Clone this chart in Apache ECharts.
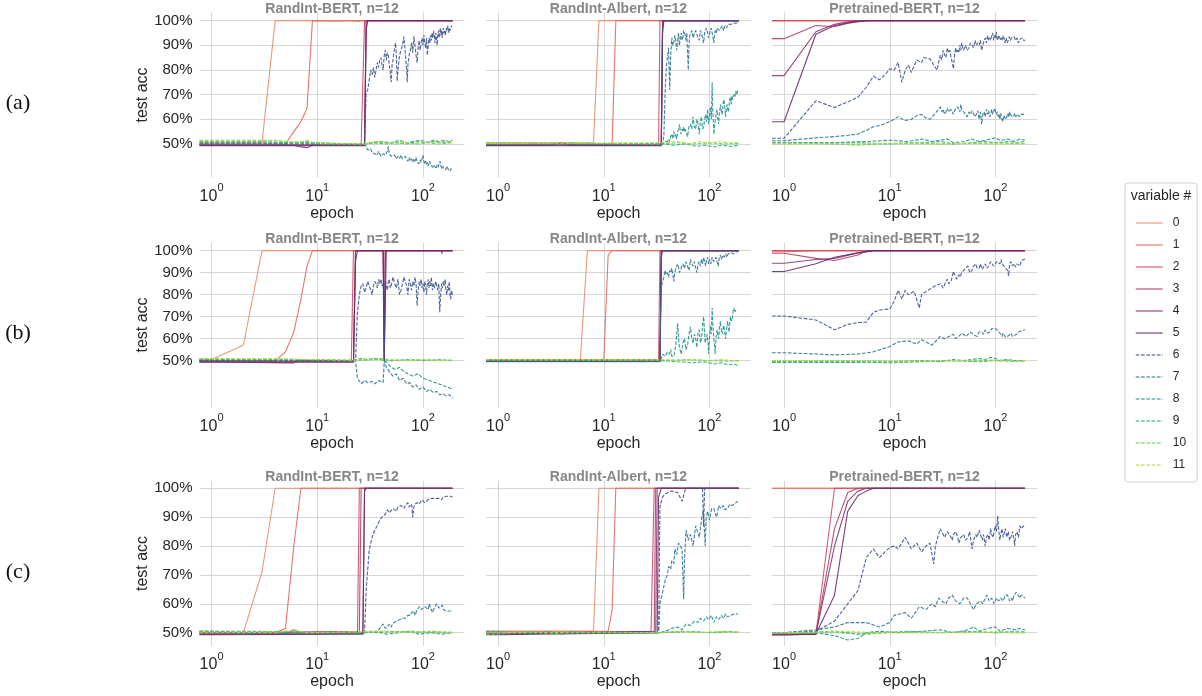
<!DOCTYPE html>
<html><head><meta charset="utf-8">
<script src="https://cdn.jsdelivr.net/npm/echarts@6/dist/echarts.min.js"></script>
<style>html,body{margin:0;padding:0;background:#fff}#c{width:1202px;height:696px}</style>
</head><body><div id="c"></div>
<script>
// ---------- categories / labels ----------
const ROW_LABELS = ['(a)', '(b)', '(c)'];
const MODEL_TITLES = ['RandInt-BERT, n=12', 'RandInt-Albert, n=12', 'Pretrained-BERT, n=12'];
const VARIABLES = ['0','1','2','3','4','5','6','7','8','9','10','11'];
const Y_TICKS = [0.5, 0.6, 0.7, 0.8, 0.9, 1.0];
const X_TICKS = [1, 10, 100];

// ---------- data: [epoch, test acc] per variable, one array per panel ----------
const A1 = [
 [[1,0.505],[3,0.505],[4,1.0],[20,1.0],[25,0.997],[27,1.0],[190,1.0]],
 [[1,0.5],[5,0.5],[6,0.55],[7,0.59],[8,0.645],[9,1.0],[15,0.998],[22,1.0],[190,1.0]],
 [[1,0.497],[26,0.497],[27,0.5],[28,1.0],[190,1.0]],
 [[1,0.495],[28,0.495],[29,1.0],[190,1.0]],
 [[1,0.495],[6,0.495],[7,0.488],[8,0.485],[9,0.495],[28,0.497],[29,1.0],[190,1.0]],
 [[1,0.493],[28,0.493],[29,0.96],[30,1.0],[190,1.0]],
 [[1,0.5],[28,0.5],[29,0.706],[30,0.72],[31,0.76],[32,0.8],[33,0.78],[34,0.81],[35,0.77],[36,0.8],[37,0.83],[38,0.81],[39,0.84],[40,0.85],[41,0.82],[42,0.8],[43,0.86],[44,0.88],[45,0.84],[46,0.87],[47,0.86],[48,0.82],[49,0.79],[50,0.75],[51,0.82],[52,0.84],[53,0.87],[54,0.89],[55,0.91],[56,0.86],[57,0.755],[58,0.8],[59,0.83],[60,0.86],[62,0.88],[64,0.9],[66,0.935],[68,0.87],[70,0.8],[71,0.75],[72,0.82],[74,0.86],[76,0.88],[78,0.91],[80,0.87],[82,0.937],[84,0.9],[86,0.86],[88,0.83],[90,0.89],[92,0.92],[94,0.88],[96,0.91],[98,0.93],[100,0.9],[102,0.94],[104,0.91],[106,0.89],[108,0.93],[110,0.86],[112,0.9],[114,0.93],[116,0.91],[118,0.94],[120,0.92],[122,0.95],[124,0.93],[126,0.96],[128,0.94],[130,0.91],[132,0.95],[134,0.93],[136,0.9],[138,0.94],[140,0.96],[142,0.93],[144,0.95],[146,0.97],[148,0.94],[150,0.96],[152,0.93],[154,0.95],[156,0.97],[158,0.95],[160,0.96],[163,0.94],[166,0.97],[169,0.96],[172,0.98],[175,0.95],[178,0.97],[181,0.96],[184,0.975],[187,0.97],[190,0.98]],
 [[1,0.5],[28,0.5],[29,0.49],[30,0.475],[31,0.47],[32,0.48],[33,0.465],[34,0.47],[35,0.46],[36,0.465],[37,0.455],[38,0.47],[39,0.46],[40,0.45],[42,0.46],[44,0.455],[46,0.47],[47,0.49],[48,0.46],[50,0.45],[52,0.445],[54,0.455],[56,0.44],[58,0.45],[60,0.44],[62,0.455],[64,0.44],[66,0.435],[68,0.45],[70,0.44],[72,0.43],[74,0.445],[76,0.43],[78,0.44],[80,0.425],[82,0.44],[84,0.43],[86,0.445],[88,0.425],[90,0.43],[92,0.42],[94,0.435],[96,0.425],[98,0.44],[100,0.455],[102,0.43],[104,0.42],[106,0.43],[108,0.415],[110,0.425],[112,0.41],[114,0.42],[116,0.43],[118,0.415],[120,0.41],[122,0.42],[124,0.405],[126,0.415],[128,0.42],[130,0.41],[133,0.4],[136,0.415],[139,0.405],[142,0.42],[145,0.43],[148,0.41],[151,0.4],[154,0.41],[157,0.4],[160,0.405],[164,0.395],[168,0.41],[172,0.4],[176,0.395],[180,0.39],[184,0.4],[190,0.39]],
 [[1,0.505],[10,0.505],[20,0.5],[28,0.5],[32,0.505],[40,0.51],[50,0.505],[60,0.515],[70,0.505],[80,0.51],[95,0.515],[110,0.505],[125,0.515],[140,0.51],[160,0.515],[175,0.51],[190,0.515]],
 [[1,0.51],[3,0.51],[5,0.505],[8,0.508],[10,0.5],[28,0.5],[35,0.505],[45,0.5],[55,0.508],[70,0.5],[85,0.51],[100,0.505],[120,0.51],[150,0.505],[190,0.51]],
 [[1,0.515],[4,0.515],[6,0.505],[8,0.51],[12,0.5],[28,0.5],[40,0.505],[55,0.5],[70,0.505],[90,0.5],[110,0.505],[140,0.5],[190,0.505]],
 [[1,0.512],[4,0.512],[7,0.508],[8,0.515],[9,0.505],[28,0.5],[35,0.51],[50,0.505],[65,0.51],[80,0.5],[100,0.508],[130,0.505],[160,0.51],[190,0.505]]
];
const A2 = [
 [[1,0.505],[8,0.505],[9,1.0],[190,1.0]],
 [[1,0.5],[12,0.5],[13,1.0],[190,1.0]],
 [[1,0.495],[33,0.495],[34,1.0],[190,1.0]],
 [[1,0.497],[35,0.497],[36,1.0],[190,1.0]],
 [[1,0.495],[3,0.495],[4,0.505],[5,0.495],[35,0.495],[36,1.0],[190,1.0]],
 [[1,0.493],[35,0.493],[36,0.95],[37,1.0],[190,1.0]],
 [[1,0.5],[35,0.5],[36,0.97],[37,1.0],[190,1.0]],
 [[1,0.5],[36,0.5],[37,0.53],[38,0.7],[39,0.81],[40,0.85],[41,0.89],[42,0.72],[43,0.86],[44,0.93],[45,0.9],[46,0.91],[47,0.94],[48,0.92],[49,0.88],[50,0.92],[51,0.95],[52,0.9],[53,0.93],[54,0.95],[55,0.92],[56,0.93],[57,0.96],[58,0.96],[59,0.94],[60,0.92],[61,0.95],[62,0.95],[63,0.8],[64,0.9],[65,0.94],[66,0.94],[68,0.96],[70,0.93],[72,0.95],[74,0.96],[76,0.96],[78,0.93],[80,0.92],[82,0.96],[84,0.95],[86,0.93],[88,0.91],[90,0.95],[92,0.96],[94,0.97],[96,0.95],[98,0.93],[100,0.93],[102,0.96],[104,0.97],[106,0.95],[108,0.93],[110,0.91],[112,0.95],[114,0.96],[116,0.95],[118,0.97],[120,0.97],[124,0.96],[128,0.97],[132,0.98],[136,0.96],[140,0.98],[145,0.97],[150,0.985],[155,0.98],[160,0.985],[170,0.99],[180,0.99],[190,0.995]],
 [[1,0.5],[36,0.5],[37,0.5],[38,0.51],[40,0.51],[41,0.52],[42,0.51],[43,0.53],[44,0.54],[45,0.52],[46,0.55],[47,0.53],[48,0.54],[49,0.52],[50,0.55],[51,0.56],[52,0.58],[53,0.55],[54,0.54],[55,0.56],[56,0.55],[57,0.57],[58,0.55],[59,0.56],[60,0.56],[62,0.53],[64,0.57],[66,0.58],[68,0.56],[70,0.61],[72,0.57],[74,0.56],[76,0.6],[78,0.58],[80,0.54],[82,0.59],[84,0.61],[86,0.56],[88,0.57],[90,0.6],[92,0.62],[94,0.59],[96,0.64],[98,0.58],[100,0.61],[102,0.65],[104,0.6],[106,0.75],[107,0.65],[108,0.62],[110,0.54],[112,0.58],[114,0.6],[116,0.63],[118,0.64],[120,0.6],[122,0.58],[124,0.62],[127,0.66],[130,0.63],[132,0.62],[135,0.67],[137,0.68],[140,0.64],[142,0.61],[145,0.65],[147,0.66],[150,0.63],[152,0.64],[155,0.68],[158,0.69],[160,0.66],[163,0.695],[166,0.68],[170,0.7],[174,0.69],[177,0.715],[181,0.7],[185,0.72]],
 [[1,0.5],[4,0.5],[5,0.505],[6,0.5],[36,0.5],[45,0.495],[60,0.5],[75,0.49],[90,0.495],[110,0.488],[130,0.495],[160,0.49],[190,0.495]],
 [[1,0.505],[36,0.5],[50,0.505],[70,0.5],[100,0.505],[140,0.5],[190,0.502]],
 [[1,0.502],[36,0.505],[50,0.51],[65,0.5],[80,0.51],[100,0.502],[120,0.51],[150,0.505],[190,0.505]]
];
const A3 = [
 [[1,1.0],[190,1.0]],
 [[1,1.0],[190,1.0]],
 [[1,1.0],[190,1.0]],
 [[1,0.927],[2,0.98],[3,0.975],[4,0.99],[5,1.0],[190,1.0]],
 [[1,0.777],[2,0.955],[3,0.985],[4,0.995],[6,1.0],[190,1.0]],
 [[1,0.59],[2,0.945],[3,0.98],[4,0.99],[6,1.0],[190,1.0]],
 [[1,0.523],[2,0.675],[3,0.648],[4,0.67],[5,0.69],[6,0.73],[7,0.775],[8,0.76],[9,0.78],[10,0.805],[11,0.8],[12,0.83],[13,0.75],[14,0.8],[15,0.82],[16,0.79],[18,0.84],[20,0.83],[21,0.85],[24,0.845],[26,0.82],[28,0.8],[30,0.86],[31,0.84],[32,0.88],[33,0.86],[34,0.85],[35,0.89],[36,0.87],[37,0.88],[38,0.85],[39,0.83],[40,0.805],[41,0.86],[42,0.89],[43,0.87],[44,0.88],[45,0.87],[46,0.9],[47,0.88],[48,0.91],[49,0.89],[50,0.88],[52,0.9],[54,0.88],[56,0.89],[58,0.91],[60,0.9],[62,0.89],[64,0.92],[66,0.9],[68,0.91],[70,0.9],[72,0.92],[74,0.88],[76,0.9],[78,0.92],[80,0.93],[82,0.91],[84,0.94],[86,0.92],[88,0.93],[90,0.92],[92,0.94],[94,0.95],[96,0.92],[98,0.94],[100,0.93],[102,0.955],[104,0.92],[106,0.915],[108,0.94],[110,0.94],[112,0.92],[114,0.93],[116,0.92],[118,0.94],[120,0.93],[123,0.91],[126,0.93],[129,0.91],[132,0.92],[135,0.935],[138,0.92],[142,0.93],[146,0.925],[150,0.935],[155,0.92],[160,0.93],[165,0.91],[170,0.925],[175,0.92],[180,0.93],[185,0.92],[190,0.92]],
 [[1,0.513],[2,0.525],[3,0.53],[4,0.535],[5,0.54],[6,0.555],[7,0.57],[8,0.575],[10,0.59],[12,0.61],[14,0.595],[16,0.6],[18,0.615],[20,0.62],[22,0.605],[24,0.6],[27,0.625],[30,0.65],[31,0.63],[32,0.64],[33,0.62],[34,0.63],[35,0.645],[36,0.63],[38,0.64],[40,0.62],[42,0.645],[44,0.65],[46,0.63],[47,0.66],[48,0.64],[50,0.64],[52,0.62],[54,0.61],[56,0.63],[58,0.62],[60,0.635],[62,0.64],[64,0.61],[66,0.62],[68,0.635],[70,0.6],[72,0.63],[74,0.58],[76,0.62],[78,0.63],[80,0.61],[82,0.64],[84,0.62],[86,0.635],[88,0.61],[90,0.62],[92,0.64],[94,0.62],[96,0.63],[98,0.645],[100,0.64],[102,0.62],[104,0.63],[106,0.61],[108,0.62],[110,0.6],[112,0.625],[114,0.61],[117,0.59],[120,0.615],[122,0.62],[125,0.6],[128,0.61],[131,0.625],[134,0.61],[137,0.63],[140,0.615],[144,0.62],[148,0.61],[152,0.625],[156,0.61],[160,0.62],[165,0.625],[170,0.61],[175,0.62],[180,0.615],[185,0.62],[190,0.615]],
 [[1,0.505],[3,0.505],[6,0.51],[10,0.515],[15,0.51],[20,0.52],[25,0.51],[30,0.515],[35,0.52],[40,0.505],[50,0.51],[60,0.52],[70,0.51],[80,0.515],[90,0.52],[100,0.525],[110,0.515],[130,0.52],[150,0.51],[170,0.52],[190,0.515]],
 [[1,0.505],[5,0.505],[10,0.5],[20,0.505],[30,0.51],[40,0.5],[60,0.505],[80,0.51],[100,0.505],[130,0.51],[160,0.505],[190,0.51]],
 [[1,0.505],[3,0.5],[5,0.495],[8,0.5],[15,0.505],[30,0.5],[60,0.502],[100,0.505],[190,0.5]],
 [[1,0.5],[5,0.5],[10,0.502],[30,0.5],[60,0.503],[100,0.5],[190,0.502]]
];
const B1 = [
 [[1,0.505],[2,0.57],[3,1.0],[190,1.0]],
 [[1,0.5],[4,0.5],[5,0.54],[6,0.63],[7,0.78],[8,0.93],[9,1.0],[190,1.0]],
 [[1,0.497],[20,0.497],[21,0.505],[22,1.0],[190,1.0]],
 [[1,0.495],[22,0.495],[23,1.0],[42,1.0],[43,0.5],[44,1.0],[190,1.0]],
 [[1,0.495],[5,0.49],[6,0.49],[7,0.505],[8,0.5],[22,0.5],[23,1.0],[42,1.0],[43,0.505],[45,1.0],[150,1.0],[151,0.985],[152,1.0],[190,1.0]],
 [[1,0.493],[22,0.493],[23,0.95],[24,1.0],[42,1.0],[43,0.5],[44,1.0],[190,1.0]],
 [[1,0.5],[23,0.5],[24,0.72],[25,0.8],[26,0.84],[27,0.85],[28,0.81],[29,0.83],[30,0.86],[31,0.86],[32,0.82],[33,0.8],[34,0.84],[35,0.86],[36,0.85],[37,0.83],[38,0.87],[39,0.85],[40,0.87],[41,0.84],[42,0.85],[43,0.5],[44,0.86],[45,0.84],[46,0.82],[47,0.86],[48,0.87],[49,0.83],[50,0.84],[52,0.88],[54,0.85],[56,0.83],[58,0.87],[60,0.8],[62,0.82],[64,0.85],[66,0.88],[68,0.86],[70,0.84],[72,0.8],[74,0.87],[76,0.85],[78,0.82],[80,0.86],[82,0.84],[84,0.88],[86,0.85],[88,0.75],[90,0.82],[92,0.86],[94,0.84],[96,0.87],[98,0.83],[100,0.85],[102,0.81],[104,0.86],[106,0.84],[108,0.8],[110,0.85],[112,0.87],[114,0.83],[116,0.86],[118,0.84],[120,0.88],[123,0.82],[126,0.85],[129,0.83],[132,0.86],[135,0.84],[138,0.82],[141,0.85],[144,0.72],[147,0.8],[150,0.85],[153,0.83],[156,0.86],[159,0.84],[162,0.87],[165,0.82],[168,0.8],[171,0.84],[174,0.82],[177,0.86],[180,0.8],[183,0.78],[186,0.82],[190,0.8]],
 [[1,0.5],[23,0.5],[24,0.42],[26,0.395],[28,0.41],[30,0.4],[33,0.405],[35,0.395],[38,0.41],[40,0.405],[42,0.4],[43,0.5],[45,0.47],[48,0.45],[52,0.43],[56,0.44],[60,0.41],[65,0.42],[70,0.395],[75,0.4],[80,0.38],[86,0.39],[92,0.37],[100,0.38],[108,0.36],[116,0.37],[125,0.355],[135,0.36],[145,0.345],[155,0.35],[165,0.34],[178,0.345],[190,0.33]],
 [[1,0.505],[20,0.5],[23,0.505],[26,0.51],[30,0.505],[35,0.51],[40,0.505],[43,0.5],[46,0.49],[50,0.47],[55,0.46],[60,0.47],[66,0.45],[72,0.44],[80,0.43],[90,0.44],[100,0.42],[115,0.41],[130,0.4],[150,0.39],[170,0.38],[190,0.37]],
 [[1,0.505],[10,0.505],[23,0.5],[30,0.505],[40,0.51],[50,0.5],[70,0.505],[100,0.5],[140,0.505],[190,0.5]],
 [[1,0.51],[3,0.505],[10,0.505],[23,0.5],[35,0.505],[60,0.5],[90,0.505],[130,0.5],[190,0.502]],
 [[1,0.508],[4,0.51],[8,0.505],[23,0.502],[40,0.508],[70,0.5],[100,0.505],[150,0.5],[190,0.503]]
];
const B2 = [
 [[1,0.505],[6,0.505],[7,1.0],[190,1.0]],
 [[1,0.5],[10,0.5],[11,0.98],[12,1.0],[190,1.0]],
 [[1,0.505],[33,0.505],[34,1.0],[190,1.0]],
 [[1,0.498],[34,0.498],[35,1.0],[190,1.0]],
 [[1,0.498],[34,0.498],[35,1.0],[190,1.0]],
 [[1,0.496],[34,0.496],[35,0.97],[36,1.0],[190,1.0]],
 [[1,0.495],[34,0.495],[35,1.0],[190,1.0]],
 [[1,0.5],[34,0.5],[35,0.836],[36,0.86],[37,0.88],[38,0.91],[39,0.89],[40,0.9],[41,0.88],[42,0.91],[43,0.9],[44,0.92],[45,0.89],[46,0.86],[47,0.9],[48,0.92],[49,0.93],[50,0.94],[52,0.9],[54,0.92],[56,0.94],[58,0.92],[60,0.95],[62,0.93],[64,0.91],[66,0.96],[68,0.94],[70,0.93],[72,0.95],[74,0.92],[76,0.9],[78,0.94],[80,0.95],[82,0.93],[84,0.96],[86,0.94],[88,0.97],[90,0.95],[92,0.93],[94,0.96],[96,0.97],[98,0.94],[100,0.96],[103,0.94],[106,0.97],[109,0.95],[112,0.96],[115,0.97],[118,0.95],[121,0.93],[124,0.97],[127,0.98],[130,0.96],[134,0.98],[138,0.97],[142,0.985],[146,0.97],[150,0.985],[155,0.98],[160,0.99],[170,0.985],[180,0.995],[190,1.0]],
 [[1,0.5],[34,0.5],[35,0.51],[36,0.53],[38,0.52],[40,0.54],[42,0.53],[43,0.55],[44,0.52],[46,0.52],[48,0.57],[50,0.67],[51,0.6],[52,0.56],[54,0.53],[55,0.55],[56,0.58],[58,0.6],[60,0.55],[62,0.57],[64,0.62],[66,0.655],[68,0.6],[70,0.58],[72,0.62],[74,0.6],[76,0.56],[78,0.63],[80,0.64],[82,0.58],[84,0.6],[86,0.66],[88,0.7],[90,0.62],[91,0.58],[93,0.6],[95,0.62],[97,0.58],[98,0.53],[100,0.6],[102,0.66],[104,0.62],[106,0.74],[108,0.65],[110,0.6],[112,0.56],[113,0.53],[115,0.6],[118,0.64],[120,0.62],[122,0.6],[125,0.66],[127,0.68],[130,0.63],[132,0.62],[135,0.65],[137,0.66],[140,0.62],[142,0.6],[145,0.64],[148,0.68],[150,0.66],[153,0.63],[155,0.66],[158,0.7],[161,0.68],[164,0.69],[167,0.72],[170,0.74],[174,0.72],[178,0.73]],
 [[1,0.5],[10,0.5],[34,0.5],[50,0.495],[70,0.49],[90,0.495],[110,0.485],[130,0.49],[150,0.48],[170,0.485],[190,0.475]],
 [[1,0.503],[34,0.5],[60,0.505],[100,0.5],[150,0.498],[190,0.5]],
 [[1,0.505],[34,0.505],[50,0.5],[70,0.505],[100,0.5],[130,0.505],[190,0.498]]
];
const B3 = [
 [[1,1.0],[190,1.0]],
 [[1,0.995],[2,1.0],[190,1.0]],
 [[1,1.0],[190,1.0]],
 [[1,0.988],[2,0.965],[3,0.955],[5,0.98],[6,1.0],[190,1.0]],
 [[1,0.943],[2,0.96],[3,0.965],[5,0.99],[7,1.0],[190,1.0]],
 [[1,0.905],[2,0.94],[3,0.97],[5,0.99],[7,1.0],[190,1.0]],
 [[1,0.703],[2,0.685],[3,0.64],[4,0.665],[5,0.673],[6,0.675],[7,0.72],[8,0.73],[10,0.735],[11,0.77],[12,0.82],[13,0.78],[14,0.82],[15,0.8],[17,0.815],[19,0.74],[20,0.8],[23,0.82],[27,0.84],[30,0.85],[32,0.83],[34,0.86],[35,0.87],[36,0.85],[38,0.86],[40,0.905],[42,0.88],[43,0.87],[45,0.89],[46,0.88],[48,0.9],[50,0.9],[52,0.92],[55,0.93],[57,0.9],[60,0.91],[62,0.93],[65,0.94],[67,0.92],[70,0.92],[72,0.94],[75,0.915],[78,0.93],[80,0.94],[83,0.92],[86,0.93],[90,0.95],[93,0.945],[96,0.93],[100,0.93],[103,0.95],[107,0.955],[110,0.94],[113,0.96],[116,0.94],[120,0.93],[125,0.92],[130,0.91],[133,0.885],[136,0.94],[140,0.95],[145,0.93],[150,0.94],[155,0.925],[160,0.94],[165,0.945],[170,0.93],[176,0.955],[183,0.95],[190,0.962]],
 [[1,0.536],[2,0.53],[3,0.526],[5,0.53],[7,0.54],[10,0.564],[12,0.585],[15,0.59],[18,0.575],[20,0.595],[23,0.58],[25,0.57],[30,0.61],[33,0.6],[35,0.605],[38,0.615],[40,0.62],[42,0.6],[45,0.61],[48,0.625],[50,0.63],[53,0.61],[55,0.62],[58,0.63],[60,0.625],[63,0.615],[67,0.61],[70,0.63],[74,0.63],[77,0.62],[80,0.64],[84,0.625],[88,0.63],[92,0.645],[95,0.645],[100,0.647],[104,0.64],[108,0.63],[112,0.62],[115,0.61],[118,0.625],[120,0.62],[125,0.605],[130,0.6],[135,0.615],[140,0.625],[145,0.61],[150,0.615],[158,0.62],[165,0.63],[172,0.625],[178,0.635],[184,0.63],[190,0.64]],
 [[1,0.492],[5,0.492],[10,0.495],[20,0.5],[30,0.495],[40,0.505],[50,0.5],[60,0.505],[70,0.51],[80,0.505],[90,0.515],[100,0.51],[110,0.5],[130,0.505],[150,0.5],[190,0.5]],
 [[1,0.495],[5,0.495],[10,0.49],[20,0.495],[40,0.5],[70,0.495],[100,0.5],[150,0.497],[190,0.5]],
 [[1,0.498],[5,0.5],[15,0.495],[30,0.5],[60,0.498],[100,0.502],[190,0.5]],
 [[1,0.5],[5,0.5],[10,0.497],[40,0.5],[80,0.503],[130,0.5],[190,0.5]]
];
const C1 = [
 [[1,0.5],[2,0.5],[3,0.71],[4,1.0],[190,1.0]],
 [[1,0.5],[4,0.5],[5,0.515],[6,0.8],[7,1.0],[190,1.0]],
 [[1,0.495],[5,0.495],[6,0.51],[7,0.5],[24,0.5],[25,1.0],[190,1.0]],
 [[1,0.5],[25,0.505],[26,1.0],[190,1.0]],
 [[1,0.495],[27,0.497],[28,1.0],[190,1.0]],
 [[1,0.493],[27,0.495],[28,0.99],[29,1.0],[190,1.0]],
 [[1,0.5],[28,0.5],[29,0.648],[31,0.786],[33,0.83],[35,0.856],[37,0.87],[39,0.89],[42,0.905],[44,0.91],[46,0.925],[48,0.915],[50,0.92],[52,0.93],[54,0.925],[56,0.92],[58,0.935],[60,0.935],[62,0.94],[64,0.945],[66,0.93],[68,0.94],[70,0.945],[72,0.95],[74,0.935],[76,0.94],[78,0.945],[80,0.9],[82,0.935],[84,0.945],[86,0.94],[88,0.95],[90,0.955],[92,0.945],[94,0.95],[96,0.945],[98,0.96],[100,0.96],[104,0.95],[108,0.955],[112,0.96],[116,0.955],[120,0.965],[125,0.96],[130,0.965],[135,0.96],[140,0.965],[145,0.97],[150,0.96],[155,0.97],[160,0.965],[168,0.972],[175,0.97],[182,0.972],[190,0.97]],
 [[1,0.505],[3,0.5],[28,0.5],[32,0.505],[36,0.5],[38,0.51],[40,0.52],[42,0.53],[44,0.515],[46,0.52],[48,0.53],[50,0.52],[52,0.533],[54,0.53],[56,0.54],[58,0.535],[60,0.545],[62,0.54],[64,0.55],[66,0.545],[68,0.55],[70,0.545],[72,0.56],[74,0.555],[76,0.56],[78,0.57],[80,0.565],[82,0.575],[84,0.56],[86,0.565],[88,0.58],[90,0.575],[93,0.59],[96,0.58],[100,0.575],[104,0.59],[108,0.59],[112,0.58],[115,0.6],[118,0.585],[120,0.59],[123,0.57],[126,0.58],[130,0.59],[134,0.6],[138,0.6],[142,0.585],[145,0.58],[148,0.59],[152,0.595],[156,0.58],[160,0.585],[165,0.575],[170,0.58],[175,0.575],[180,0.58],[185,0.575],[190,0.575]],
 [[1,0.505],[2,0.495],[3,0.5],[28,0.5],[35,0.505],[45,0.495],[60,0.5],[75,0.505],[90,0.495],[120,0.5],[150,0.495],[190,0.5]],
 [[1,0.505],[3,0.505],[4,0.5],[28,0.5],[50,0.505],[80,0.5],[120,0.505],[190,0.5]],
 [[1,0.5],[5,0.505],[10,0.5],[40,0.502],[80,0.505],[130,0.5],[190,0.502]],
 [[1,0.502],[4,0.5],[6,0.51],[8,0.5],[40,0.505],[70,0.5],[120,0.505],[190,0.5]]
];
const C2 = [
 [[1,0.505],[8,0.505],[9,1.0],[190,1.0]],
 [[1,0.505],[11,0.505],[12,0.58],[13,1.0],[190,1.0]],
 [[1,0.495],[28,0.505],[29,0.51],[30,1.0],[190,1.0]],
 [[1,0.498],[30,0.505],[31,1.0],[190,1.0]],
 [[1,0.495],[31,0.505],[32,1.0],[190,1.0]],
 [[1,0.493],[32,0.5],[33,0.97],[35,1.0],[190,1.0]],
 [[1,0.5],[33,0.5],[34,0.936],[36,0.97],[38,0.98],[44,0.99],[50,0.985],[55,0.955],[59,0.995],[62,1.0],[86,1.0],[88,0.867],[90,1.0],[190,1.0]],
 [[1,0.5],[33,0.5],[34,0.6],[36,0.64],[38,0.68],[40,0.7],[41,0.73],[43,0.72],[44,0.75],[46,0.74],[47,0.79],[49,0.77],[51,0.81],[53,0.8],[55,0.79],[57,0.616],[58,0.75],[60,0.855],[63,0.82],[66,0.84],[70,0.8],[74,0.87],[77,0.85],[80,0.83],[84,0.89],[87,0.92],[89,0.88],[91,0.8],[93,0.9],[96,0.92],[100,0.89],[105,0.93],[110,0.93],[114,0.91],[117,0.9],[122,0.94],[128,0.93],[135,0.94],[141,0.925],[148,0.93],[156,0.945],[163,0.94],[170,0.94],[178,0.95],[185,0.955]],
 [[1,0.5],[33,0.5],[38,0.505],[44,0.515],[50,0.52],[55,0.51],[60,0.53],[66,0.525],[72,0.54],[78,0.535],[82,0.55],[88,0.54],[93,0.555],[98,0.545],[104,0.56],[110,0.535],[116,0.555],[122,0.545],[130,0.56],[136,0.55],[142,0.565],[148,0.555],[160,0.56],[172,0.565],[185,0.565]],
 [[1,0.505],[2,0.495],[3,0.505],[4,0.495],[5,0.505],[6,0.5],[33,0.5],[60,0.505],[100,0.5],[150,0.505],[190,0.5]],
 [[1,0.495],[2,0.505],[3,0.495],[4,0.5],[10,0.5],[33,0.5],[70,0.502],[120,0.5],[190,0.503]],
 [[1,0.5],[10,0.502],[33,0.5],[50,0.505],[80,0.5],[130,0.505],[190,0.5]]
];
const C3 = [
 [[1,1.0],[190,1.0]],
 [[1,1.0],[190,1.0]],
 [[1,0.495],[2,0.495],[3,1.0],[190,1.0]],
 [[1,0.495],[2,0.495],[3,0.86],[4,0.985],[5,1.0],[190,1.0]],
 [[1,0.493],[2,0.495],[3,0.8],[4,0.955],[5,0.99],[6,1.0],[190,1.0]],
 [[1,0.492],[2,0.495],[3,0.63],[4,0.92],[5,0.975],[6,0.99],[7,1.0],[190,1.0]],
 [[1,0.5],[2,0.505],[3,0.54],[4,0.6],[5,0.646],[6,0.76],[7,0.79],[8,0.76],[9,0.78],[10,0.795],[11,0.8],[12,0.79],[14,0.83],[16,0.79],[18,0.81],[20,0.78],[22,0.8],[24,0.81],[26,0.738],[27,0.8],[30,0.86],[32,0.84],[33,0.83],[35,0.85],[36,0.85],[38,0.83],[39,0.82],[40,0.84],[42,0.85],[44,0.83],[45,0.81],[47,0.83],[50,0.84],[52,0.82],[55,0.83],[57,0.85],[60,0.79],[62,0.82],[65,0.84],[67,0.83],[70,0.855],[72,0.84],[75,0.82],[77,0.84],[80,0.8],[82,0.83],[85,0.84],[87,0.82],[90,0.86],[92,0.84],[95,0.83],[97,0.85],[100,0.87],[102,0.85],[105,0.904],[107,0.86],[110,0.82],[112,0.84],[115,0.86],[118,0.83],[120,0.84],[124,0.86],[128,0.83],[132,0.85],[136,0.82],[140,0.83],[145,0.85],[150,0.82],[152,0.8],[155,0.84],[160,0.85],[165,0.83],[170,0.87],[175,0.86],[180,0.86],[185,0.87],[190,0.865]],
 [[1,0.5],[2,0.51],[3,0.52],[4,0.535],[5,0.535],[6,0.535],[8,0.52],[10,0.535],[11,0.56],[14,0.57],[16,0.55],[19,0.59],[22,0.58],[25,0.6],[27,0.59],[29,0.62],[31,0.61],[34,0.6],[36,0.62],[39,0.63],[42,0.61],[46,0.6],[50,0.62],[54,0.62],[58,0.6],[62,0.58],[66,0.6],[72,0.61],[76,0.6],[80,0.62],[83,0.63],[87,0.61],[92,0.62],[97,0.6],[102,0.62],[107,0.61],[112,0.62],[118,0.61],[124,0.63],[130,0.63],[136,0.61],[141,0.62],[145,0.61],[150,0.63],[157,0.64],[164,0.63],[170,0.62],[175,0.63],[182,0.625],[190,0.62]],
 [[1,0.5],[2,0.5],[3,0.49],[4,0.475],[5,0.48],[6,0.5],[8,0.505],[12,0.5],[20,0.505],[30,0.51],[40,0.5],[55,0.51],[62,0.52],[70,0.505],[85,0.515],[100,0.52],[110,0.505],[130,0.515],[150,0.51],[170,0.515],[190,0.51]],
 [[1,0.5],[3,0.505],[5,0.495],[8,0.5],[15,0.505],[30,0.5],[60,0.505],[100,0.5],[150,0.505],[190,0.505]],
 [[1,0.497],[3,0.5],[6,0.495],[10,0.5],[30,0.5],[60,0.502],[100,0.5],[190,0.5]],
 [[1,0.5],[4,0.505],[7,0.5],[20,0.502],[50,0.5],[100,0.503],[190,0.5]]
];
const PANELS = [[A1, A2, A3], [B1, B2, B3], [C1, C2, C3]];

// ---------- style / layout ----------
const COLORS = ['#e98d6b','#e3685c','#d14a61','#b13c6c','#8f3371','#6c2b6d',
                '#3b528b','#2c728e','#21918c','#28ae80','#5ec962','#addc30'];
const FONT = '"Liberation Sans", Arial, sans-serif';
const TXT = '#262626';
const GRIDC = '#d6d6d6';
const X_MIN = 0.769, X_MAX = 247;
const COL_LEFT = [199.5, 486, 772];
const PANEL_W = 265;
const ROW_TOP = [12.5, 242.5, 481];
const PANEL_H = 165;
const ROW_Y = [[0.364, 1.033], [0.287, 1.037], [0.454, 1.025]];

const grids = [], xAxes = [], yAxes = [], series = [], graphics = [];
for (let r = 0; r < 3; r++) {
  for (let c = 0; c < 3; c++) {
    const p = r * 3 + c;
    grids.push({left: COL_LEFT[c], top: ROW_TOP[r], width: PANEL_W, height: PANEL_H, containLabel: false});
    xAxes.push({
      gridIndex: p, type: 'log', logBase: 10, min: X_MIN, max: X_MAX,
      axisLine: {show: false}, axisTick: {show: false, customValues: X_TICKS},
      splitLine: {show: true, lineStyle: {color: GRIDC, width: 1}},
      minorTick: {show: false}, minorSplitLine: {show: false},
      axisLabel: {
        customValues: X_TICKS, margin: 5, color: TXT, fontFamily: FONT,
        formatter: v => '{b|10}{s|' + Math.round(Math.log10(v)) + '}',
        rich: {
          b: {fontSize: 16, fontFamily: FONT, color: TXT, lineHeight: 22, verticalAlign: 'bottom'},
          s: {fontSize: 11, fontFamily: FONT, color: TXT, lineHeight: 11, verticalAlign: 'top'}
        }
      },
      name: 'epoch', nameLocation: 'middle', nameGap: 19,
      nameTextStyle: {fontSize: 16, color: TXT, fontFamily: FONT}
    });
    yAxes.push({
      gridIndex: p, type: 'value', min: ROW_Y[r][0], max: ROW_Y[r][1],
      axisLine: {show: false}, axisTick: {show: false, customValues: Y_TICKS},
      splitLine: {show: true, lineStyle: {color: GRIDC, width: 1}},
      axisLabel: {show: c === 0, customValues: Y_TICKS, margin: 7, fontSize: 15, color: TXT, fontFamily: FONT,
        formatter: v => Math.round(v * 100) + '%'},
      name: c === 0 ? 'test acc' : '', nameLocation: 'middle', nameGap: 47,
      nameTextStyle: {fontSize: 16, color: TXT, fontFamily: FONT}
    });
    const panel = PANELS[r][c];
    panel.forEach((pts, s) => {
      series.push({
        type: 'line', name: VARIABLES[s], xAxisIndex: p, yAxisIndex: p,
        data: [[X_MIN, pts[0][1]]].concat(pts),
        symbol: 'none', showSymbol: false, silent: true, animation: false,
        lineStyle: {color: COLORS[s], width: 1.1, opacity: 0.9, type: s >= 6 ? [3.7, 1.6] : 'solid'},
        itemStyle: {color: COLORS[s]}
      });
    });
    graphics.push({type: 'text', x: COL_LEFT[c] + PANEL_W / 2, y: ROW_TOP[r] - 3.5,
      style: {text: MODEL_TITLES[c], textAlign: 'center', textVerticalAlign: 'middle',
        font: 'bold 14px ' + FONT, fill: '#868686'}});
  }
  graphics.push({type: 'text', x: 18, y: ROW_TOP[r] + 91,
    style: {text: ROW_LABELS[r], textAlign: 'center', textVerticalAlign: 'middle',
      font: '22px "Liberation Serif", "DejaVu Serif", serif', fill: '#111'}});
}
graphics.push({type: 'text', x: 1161, y: 196,
  style: {text: 'variable #', textAlign: 'center', textVerticalAlign: 'middle', font: '14px ' + FONT, fill: TXT}});

const chart = echarts.init(document.getElementById('c'), null, {renderer: 'canvas'});
chart.setOption({
  animation: false,
  backgroundColor: '#fff',
  grid: grids, xAxis: xAxes, yAxis: yAxes, series: series,
  legend: {
    data: VARIABLES, orient: 'vertical', left: 1125, top: 183,
    padding: [34, 11, 11, 10], itemGap: 10, itemWidth: 27, itemHeight: 12,
    borderColor: '#d0d0d0', borderWidth: 1, borderRadius: 3, selectedMode: false,
    itemStyle: {opacity: 0, borderWidth: 0},
    lineStyle: {width: 1.5, opacity: 0.7},
    textStyle: {fontSize: 12, color: TXT, fontFamily: FONT, padding: [0, 0, 0, 5], width: 16}
  },
  graphic: graphics
});
</script></body></html>
